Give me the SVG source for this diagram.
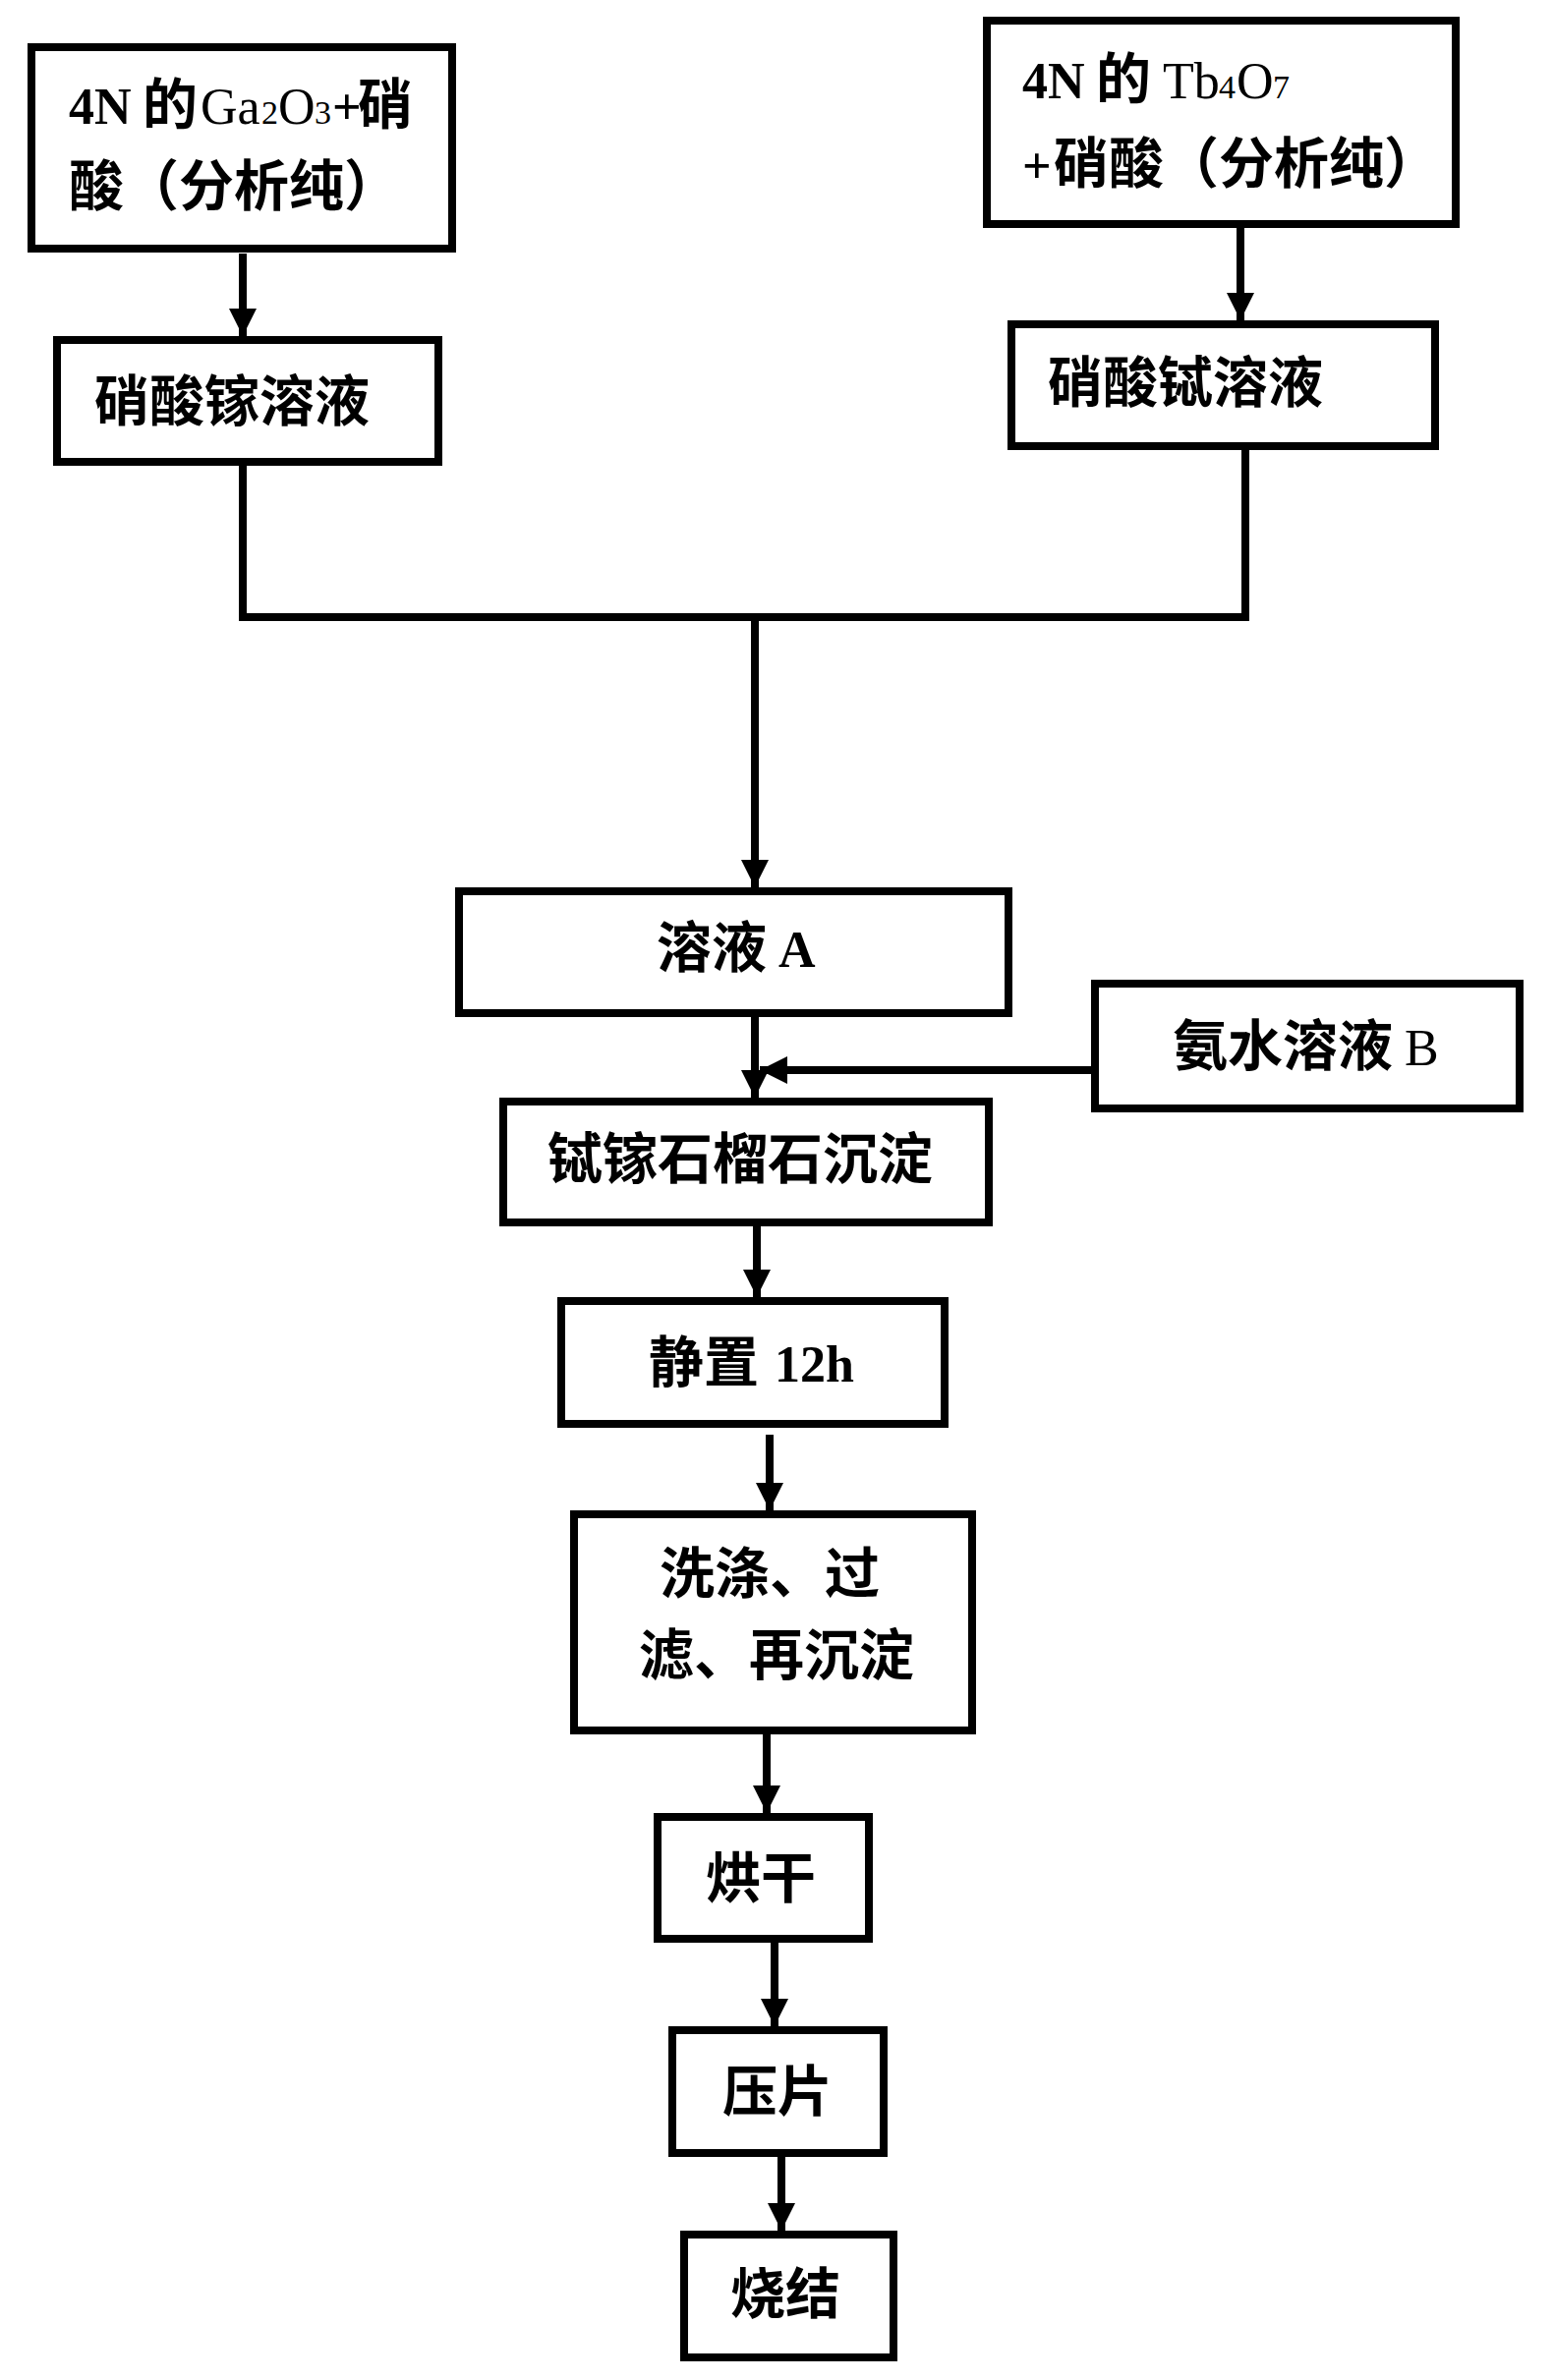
<svg xmlns="http://www.w3.org/2000/svg" width="1581" height="2422" viewBox="0 0 1581 2422">
<style>
.box{fill:#fff;stroke:#000;stroke-width:8}
.cn{stroke:#000;stroke-width:8;fill:none}
text{font-family:"Liberation Serif","Noto Sans CJK SC",serif;font-weight:bold;font-size:56px;fill:#000}
.lat{font-family:"Liberation Serif",serif;font-weight:normal;font-size:52px}
.sub{font-family:"Liberation Serif",serif;font-weight:normal;font-size:34px}
.lb{font-family:"Liberation Serif",serif;font-weight:bold;font-size:52px}
</style>
<defs>
<marker id="ah" markerUnits="userSpaceOnUse" markerWidth="30" markerHeight="30" refX="28" refY="14" orient="auto">
<path d="M0,0 L28,14 L0,28 Z" fill="#000"/>
</marker>
</defs>
<rect width="1581" height="2422" fill="#fff"/>
<g id="connectors">
<line class="cn" x1="247" y1="258" x2="247" y2="342" marker-end="url(#ah)"/>
<line class="cn" x1="1262" y1="232" x2="1262" y2="326" marker-end="url(#ah)"/>
<polyline class="cn" points="247,474 247,628 1267,628 1267,458"/>
<line class="cn" x1="768" y1="628" x2="768" y2="903" marker-end="url(#ah)"/>
<line class="cn" x1="768" y1="1035" x2="768" y2="1117" marker-end="url(#ah)"/>
<line class="cn" x1="1110" y1="1089" x2="773" y2="1089" marker-end="url(#ah)"/>
<line class="cn" x1="770" y1="1248" x2="770" y2="1320" marker-end="url(#ah)"/>
<line class="cn" x1="783" y1="1460" x2="783" y2="1537" marker-end="url(#ah)"/>
<line class="cn" x1="780" y1="1765" x2="780" y2="1845" marker-end="url(#ah)"/>
<line class="cn" x1="788" y1="1977" x2="788" y2="2062" marker-end="url(#ah)"/>
<line class="cn" x1="795" y1="2195" x2="795" y2="2270" marker-end="url(#ah)"/>
</g>
<g id="n1">
<rect class="box" x="32" y="48" width="428" height="205"/>
<text y="126"><tspan class="lb" x="70">4N</tspan><tspan x="145">的</tspan><tspan class="lat" x="204">Ga</tspan><tspan class="sub" x="266">2</tspan><tspan class="lat" x="283">O</tspan><tspan class="sub" x="320">3</tspan><tspan class="lb" x="338">+</tspan><tspan x="364">硝</tspan></text>
<text x="70" y="209">酸（分析纯）</text>
</g>
<g id="n2">
<rect class="box" x="58" y="346" width="388" height="124"/>
<text x="96" y="428">硝酸镓溶液</text>
</g>
<g id="n3">
<rect class="box" x="1004" y="21" width="477" height="207"/>
<text y="100"><tspan class="lb" x="1040">4N</tspan><tspan x="1115">的</tspan><tspan class="lat" x="1183">Tb</tspan><tspan class="sub" x="1240">4</tspan><tspan class="lat" x="1258">O</tspan><tspan class="sub" x="1295">7</tspan></text>
<text y="186"><tspan class="lb" x="1040">+</tspan><tspan x="1072">硝酸（分析纯）</tspan></text>
</g>
<g id="n4">
<rect class="box" x="1029" y="330" width="431" height="124"/>
<text x="1066" y="409">硝酸铽溶液</text>
</g>
<g id="n5">
<rect class="box" x="467" y="907" width="559" height="124"/>
<text x="668" y="984">溶液<tspan class="lb" dx="12">A</tspan></text>
</g>
<g id="n6">
<rect class="box" x="1114" y="1001" width="432" height="127"/>
<text x="1193" y="1084">氨水溶液<tspan class="lat" dx="12">B</tspan></text>
</g>
<g id="n7">
<rect class="box" x="512" y="1121" width="494" height="123"/>
<text x="557" y="1199">铽镓石榴石沉淀</text>
</g>
<g id="n8">
<rect class="box" x="571" y="1324" width="390" height="125"/>
<text x="660" y="1406">静置<tspan class="lb" dx="16">12h</tspan></text>
</g>
<g id="n9">
<rect class="box" x="584" y="1541" width="405" height="220"/>
<text x="671" y="1621">洗涤、过</text>
<text x="650" y="1704">滤、再沉淀</text>
</g>
<g id="n10">
<rect class="box" x="669" y="1849" width="215" height="124"/>
<text x="718" y="1931">烘干</text>
</g>
<g id="n11">
<rect class="box" x="684" y="2066" width="215" height="125"/>
<text x="735" y="2148">压片</text>
</g>
<g id="n12">
<rect class="box" x="696" y="2274" width="213" height="125"/>
<text x="743" y="2354">烧结</text>
</g>
</svg>
